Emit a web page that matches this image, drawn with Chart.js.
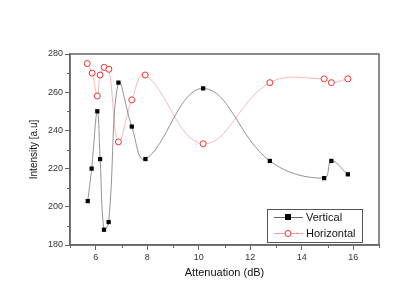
<!DOCTYPE html>
<html>
<head>
<meta charset="utf-8">
<script src="https://cdn.jsdelivr.net/npm/chart.js@4"></script>
<style>
  body { margin: 0; background: #fff; }
  #wrap { width: 415px; height: 294px; }
</style>
</head>
<body>
<div id="wrap"><canvas id="chart" width="415" height="294"></canvas></div>
<script>
// Data
const vertX = [5.69, 5.84, 6.06, 6.17, 6.32, 6.50, 6.88, 7.40, 7.93, 10.17, 12.76, 14.87, 15.15, 15.79];
const vertY = [203, 220, 250, 225, 188, 192, 265, 242, 225, 262, 224, 215, 224, 217];
const horzX = [5.67, 5.86, 6.06, 6.17, 6.33, 6.51, 6.88, 7.40, 7.92, 10.17, 12.76, 14.87, 15.15, 15.79];
const horzY = [275, 270, 258, 269, 273, 272, 234, 256, 269, 233, 265, 267, 265, 267];

const xTicks = [6, 8, 10, 12, 14, 16];
const yTicks = [180, 200, 220, 240, 260, 280];

const axisColor = '#666';

function toPoints(xs, ys) {
    return xs.map((x, i) => ({ x: x, y: ys[i] }));
}

// frame, minor ticks and the boxed legend
const framePlugin = {
    id: 'frame',
    afterDraw(chart) {
        const ctx = chart.ctx;
        const a = chart.chartArea;
        const xs = chart.scales.x;
        const ys = chart.scales.y;
        ctx.save();
        ctx.strokeStyle = axisColor;
        ctx.lineWidth = 1.5;
        ctx.strokeRect(a.left, a.top, a.right - a.left, a.bottom - a.top);

        // minor ticks
        ctx.lineWidth = 1;
        ctx.beginPath();
        for (let v = 5; v <= 17; v += 1) {
            if (v % 2 === 0) continue;
            const px = Math.round(xs.getPixelForValue(v)) + 0.5;
            ctx.moveTo(px, a.bottom);
            ctx.lineTo(px, a.bottom + 3);
        }
        for (let v = 190; v <= 270; v += 20) {
            const py = Math.round(ys.getPixelForValue(v)) + 0.5;
            ctx.moveTo(a.left, py);
            ctx.lineTo(a.left - 3, py);
        }
        ctx.stroke();

        // legend
        const lx = 267, ly = 209, lw = 95, lh = 33;
        ctx.fillStyle = '#fff';
        ctx.fillRect(lx, ly, lw, lh);
        ctx.strokeStyle = '#555';
        ctx.lineWidth = 1;
        ctx.strokeRect(lx + 0.5, ly + 0.5, lw, lh);
        chart.data.datasets.forEach((ds, i) => {
            const cy = ly + 8 + i * 16;
            ctx.strokeStyle = ds.borderColor;
            ctx.beginPath();
            ctx.moveTo(274, cy + 0.5);
            ctx.lineTo(303, cy + 0.5);
            ctx.stroke();
            if (ds.pointStyle === 'rect') {
                ctx.fillStyle = ds.pointBackgroundColor;
                ctx.fillRect(285, cy - 3, 6, 6);
            } else {
                ctx.fillStyle = '#fff';
                ctx.strokeStyle = ds.pointBorderColor;
                ctx.beginPath();
                ctx.arc(288, cy + 0.5, 3, 0, Math.PI * 2);
                ctx.fill();
                ctx.stroke();
            }
            ctx.fillStyle = '#111';
            ctx.font = '11px "Liberation Sans", Arial, sans-serif';
            ctx.textBaseline = 'middle';
            ctx.fillText(ds.label, 306, cy + 1);
        });
        ctx.restore();
    }
};

new Chart(document.getElementById('chart'), {
    type: 'scatter',
    data: {
        datasets: [{
            label: 'Vertical',
            data: toPoints(vertX, vertY),
            showLine: true,
            tension: 0.4,
            borderColor: '#666',
            borderWidth: 0.7,
            pointStyle: 'rect',
            pointRadius: 3,
            pointBackgroundColor: '#000',
            pointBorderColor: '#000',
            pointBorderWidth: 0
        }, {
            label: 'Horizontal',
            data: toPoints(horzX, horzY),
            showLine: true,
            tension: 0.4,
            borderColor: '#f49a9a',
            borderWidth: 0.7,
            pointStyle: 'circle',
            pointRadius: 3,
            pointBackgroundColor: '#fff',
            pointBorderColor: '#f03030',
            pointBorderWidth: 1
        }]
    },
    options: {
        responsive: false,
        animation: false,
        layout: { padding: { top: 54, right: 36, left: 0, bottom: 0 } },
        plugins: { legend: { display: false }, tooltip: { enabled: false } },
        scales: {
            x: {
                type: 'linear',
                min: 5,
                max: 17,
                afterBuildTicks: (s) => { s.ticks = xTicks.map(v => ({ value: v })); },
                afterFit: (s) => { s.height = 49; },
                ticks: {
                    color: '#333',
                    font: { size: 9, family: '"Liberation Sans", Arial, sans-serif' },
                    padding: 2
                },
                grid: { drawOnChartArea: false, tickLength: 5, color: axisColor },
                border: { color: axisColor, width: 1.5 },
                title: {
                    display: true,
                    text: 'Attenuation (dB)',
                    color: '#111',
                    font: { size: 11, family: '"Liberation Sans", Arial, sans-serif' },
                    padding: { top: 2, bottom: 14 }
                }
            },
            y: {
                type: 'linear',
                min: 180,
                max: 280,
                afterBuildTicks: (s) => { s.ticks = yTicks.map(v => ({ value: v })); },
                afterFit: (s) => { s.width = 70; },
                ticks: {
                    color: '#333',
                    font: { size: 9, family: '"Liberation Sans", Arial, sans-serif' },
                    padding: 2
                },
                grid: { drawOnChartArea: false, tickLength: 5, color: axisColor },
                border: { color: axisColor, width: 1.5 },
                title: {
                    display: true,
                    text: 'Intensity [a.u]',
                    color: '#111',
                    font: { size: 10, family: '"Liberation Sans", Arial, sans-serif' },
                    padding: { top: 28, bottom: 8 }
                }
            }
        }
    },
    plugins: [framePlugin]
});
</script>
</body>
</html>
